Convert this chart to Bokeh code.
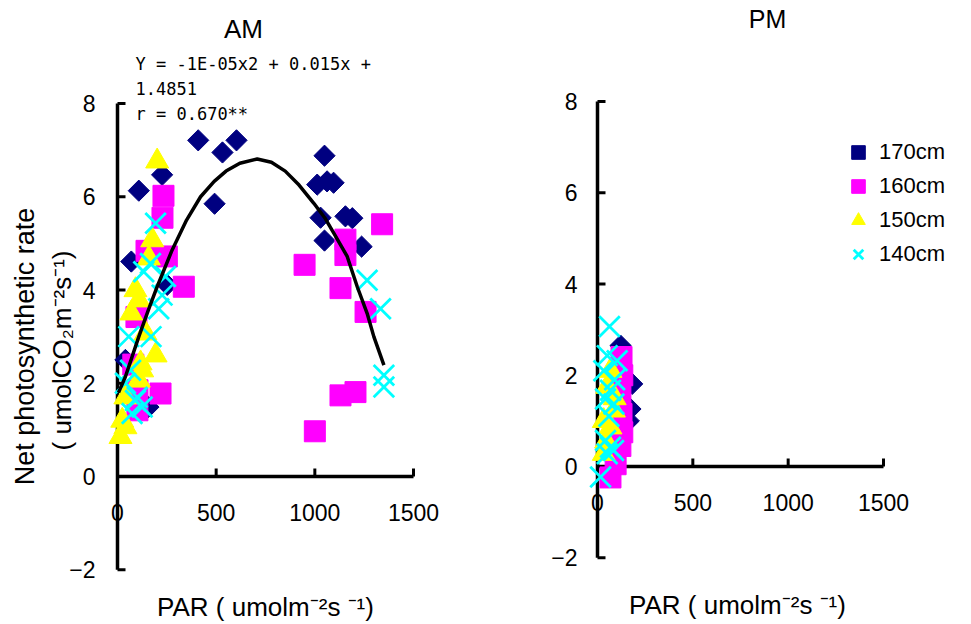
import math
from bokeh.plotting import figure
from bokeh.models import Range1d, Legend, LegendItem
from bokeh.layouts import row
from bokeh.embed import file_html
from bokeh.resources import INLINE
from bokeh.core.properties import value

FONT = "Liberation Sans"
MONO = "DejaVu Sans Mono"

# ---------------- data ----------------
Y_TICKS = [-2, 0, 2, 4, 6, 8]
Y_TICK_LABELS = ["\u22122", "0", "2", "4", "6", "8"]
X_TICKS = [0, 500, 1000, 1500]
X_TICK_LABELS = ["0", "500", "1000", "1500"]
SERIES = ["170cm", "160cm", "150cm", "140cm"]

# AM
am_170_x = [409, 532, 603, 492, 108, 226, 1049, 1012, 1062, 1095, 1029, 1155, 1190, 1049, 1237, 70, 252, 40, 157]
am_170_y = [7.21, 6.95, 7.21, 5.85, 6.13, 6.47, 6.88, 6.26, 6.33, 6.30, 5.55, 5.58, 5.54, 5.06, 4.93, 4.61, 4.11, 2.5, 1.49]
am_160_x = [233, 228, 147, 250, 336, 96, 80, 101, 101, 218, 948, 1341, 1155, 1155, 1130, 1257, 1130, 1206, 1000]
am_160_y = [6.02, 5.55, 4.84, 4.72, 4.07, 3.42, 2.4, 1.85, 1.42, 1.78, 4.54, 5.41, 5.08, 4.75, 4.04, 3.53, 1.74, 1.81, 0.97]
am_150_x = [201, 176, 159, 91, 108, 70, 142, 193, 117, 125, 108, 40, 40, 24, 15]
am_150_y = [6.76, 5.07, 4.68, 4.0, 3.78, 3.5, 3.07, 2.6, 2.43, 2.28, 2.06, 1.7, 1.06, 1.2, 0.85]
am_140_x = [193, 167, 133, 243, 1265, 226, 1333, 209, 57, 170, 1350, 1350, 66, 40, 91, 74, 125, 100]
am_140_y = [5.43, 4.57, 4.39, 4.29, 4.21, 3.89, 3.6, 3.6, 3.0, 3.0, 2.17, 1.92, 2.28, 2.0, 1.63, 1.35, 1.49, 1.7]

# AM trend curve
trend_x = [5, 40, 108, 159, 201, 277, 350, 421, 490, 550, 620, 708, 780, 850, 920, 995, 1050, 1096, 1164, 1215, 1265, 1299, 1350]
trend_y = [1.8, 2.14, 3.0, 3.6, 4.07, 4.86, 5.5, 6.0, 6.33, 6.55, 6.72, 6.81, 6.74, 6.55, 6.25, 5.86, 5.55, 5.22, 4.72, 4.07, 3.5, 3.0, 2.39]
eq_lines = ["Y = -1E-05x2 + 0.015x +", "1.4851", "r = 0.670**"]

# PM
pm_170_x = [121, 182, 173, 164, 100]
pm_170_y = [2.65, 1.81, 1.26, 1.0, 2.0]
pm_160_x = [126, 130, 120, 126, 130, 120, 68, 95]
pm_160_y = [2.4, 2.0, 1.55, 1.15, 0.75, 0.45, -0.24, 0.05]
pm_150_x = [68, 51, 86, 33, 68, 33, 45, 90]
pm_150_y = [2.1, 1.75, 1.23, 1.0, 0.86, 0.28, 0.55, 1.5]
pm_140_x = [63, 51, 103, 33, 68, 42, 86, 42, 68, 84, 16, 51, 90, 60]
pm_140_y = [3.07, 2.43, 2.32, 2.1, 1.67, 1.48, 1.37, 0.57, 0.42, 0.35, -0.23, 0.28, 1.9, 1.1]

X_TITLE = "PAR ( umolm\u207b\u00b2s \u207b\u00b9)"
Y_TITLE_1 = "Net photosynthetic rate"
Y_TITLE_2 = "( umolCO\u2082m\u207b\u00b2s\u207b\u00b9)"

COLORS = ["#000080", "#FF00FF", "#FFFF00", "#00FFFF"]

# ---------------- layout (page pixels) ----------------
H = 624


class Panel:
    def __init__(self, left, width, x0px, x1500px, y0px, y8px):
        self.left = left
        self.width = width
        self.x0px = x0px
        self.xs = (x1500px - x0px) / 1500.0
        self.y0px = y0px
        self.ys = (y0px - y8px) / 8.0

    def dx(self, px):
        return (px - self.x0px) / self.xs

    def dy(self, py):
        return (self.y0px - py) / self.ys


AM = Panel(0, 490, 117, 413, 476, 103)
PM = Panel(490, 481, 597, 883, 466, 101)


def make_fig(pn, ylab_off):
    p = figure(width=pn.width, height=H,
               x_range=Range1d(pn.dx(pn.left), pn.dx(pn.left + pn.width)),
               y_range=Range1d(pn.dy(H), pn.dy(0)),
               output_backend="svg", toolbar_location=None, min_border=0)
    p.outline_line_color = None
    p.xgrid.visible = False
    p.ygrid.visible = False
    p.xaxis.visible = False
    p.yaxis.visible = False
    p.title.visible = False
    p.background_fill_color = "white"
    p.border_fill_color = "white"

    # vertical axis at x = 0
    p.segment(x0=[0], y0=[Y_TICKS[0]], x1=[0], y1=[Y_TICKS[-1]], line_color="black", line_width=3.5)
    p.ray(x=[0] * len(Y_TICKS), y=Y_TICKS, length=8, length_units="screen", angle=0,
          line_color="black", line_width=3)
    p.text(x=[0] * len(Y_TICKS), y=Y_TICKS, text=Y_TICK_LABELS, text_align="right",
           text_baseline="middle", x_offset=ylab_off, text_font=value(FONT),
           text_font_size=value("23px"), text_color="black")

    # horizontal axis crossing at y = 0
    p.segment(x0=[X_TICKS[0]], y0=[0], x1=[X_TICKS[-1]], y1=[0], line_color="black", line_width=3.5)
    p.ray(x=X_TICKS[1:], y=[0] * (len(X_TICKS) - 1), length=8, length_units="screen",
          angle=math.pi / 2, line_color="black", line_width=3)
    p.text(x=X_TICKS, y=[0] * len(X_TICKS), text=X_TICK_LABELS, text_align="center",
           text_baseline="middle", y_offset=36, text_font=value(FONT),
           text_font_size=value("23px"), text_color="black")
    return p


def add_text(p, pn, px, py, txt, size, font=FONT, align="center", angle=0.0):
    p.text(x=[pn.dx(px)], y=[pn.dy(py)], text=[txt], text_align=align, text_baseline="middle",
           angle=angle, text_font=value(font), text_font_size=value(size), text_color="black")


def add_series(p, xs_list, ys_list):
    rs = []
    rs.append(p.scatter(xs_list[0], ys_list[0], marker="square", angle=math.pi / 4, size=15,
                        fill_color=COLORS[0], line_color=COLORS[0]))
    rs.append(p.scatter(xs_list[1], ys_list[1], marker="square", size=21,
                        fill_color=COLORS[1], line_color=COLORS[1]))
    rs.append(p.scatter(xs_list[2], ys_list[2], marker="triangle", size=23,
                        fill_color=COLORS[2], line_color=COLORS[2]))
    rs.append(p.scatter(xs_list[3], ys_list[3], marker="x", size=29,
                        line_color=COLORS[3], line_width=2.8))
    return rs


# ---------------- AM ----------------
p1 = make_fig(AM, -22)
add_series(p1, [am_170_x, am_160_x, am_150_x, am_140_x], [am_170_y, am_160_y, am_150_y, am_140_y])
p1.line(trend_x, trend_y, line_color="black", line_width=3.5, line_join="round")
add_text(p1, AM, 243, 28, "AM", "26px")
for t, py in zip(eq_lines, [63, 88, 113]):
    add_text(p1, AM, 135, py, t, "17px", font=MONO, align="left")
add_text(p1, AM, 265, 606, X_TITLE, "26px")
add_text(p1, AM, 24, 346, Y_TITLE_1, "27px", angle=math.pi / 2)
add_text(p1, AM, 61, 350, Y_TITLE_2, "26px", angle=math.pi / 2)

# ---------------- PM ----------------
p2 = make_fig(PM, -20)
rs = add_series(p2, [pm_170_x, pm_160_x, pm_150_x, pm_140_x], [pm_170_y, pm_160_y, pm_150_y, pm_140_y])
add_text(p2, PM, 767, 18, "PM", "25px")
add_text(p2, PM, 737, 604, X_TITLE, "26px")

legend = Legend(items=[LegendItem(label=s, renderers=[r]) for s, r in zip(SERIES, rs)],
                location=(351, 353), padding=0, margin=0, spacing=0,
                glyph_width=34, glyph_height=34, label_standoff=4,
                label_text_font=FONT, label_text_font_size="22px", label_text_color="black",
                label_text_baseline="middle",
                background_fill_alpha=0, border_line_alpha=0)
p2.add_layout(legend)

layout = row(p1, p2)
open("out.html", "w").write(file_html(layout, INLINE))
